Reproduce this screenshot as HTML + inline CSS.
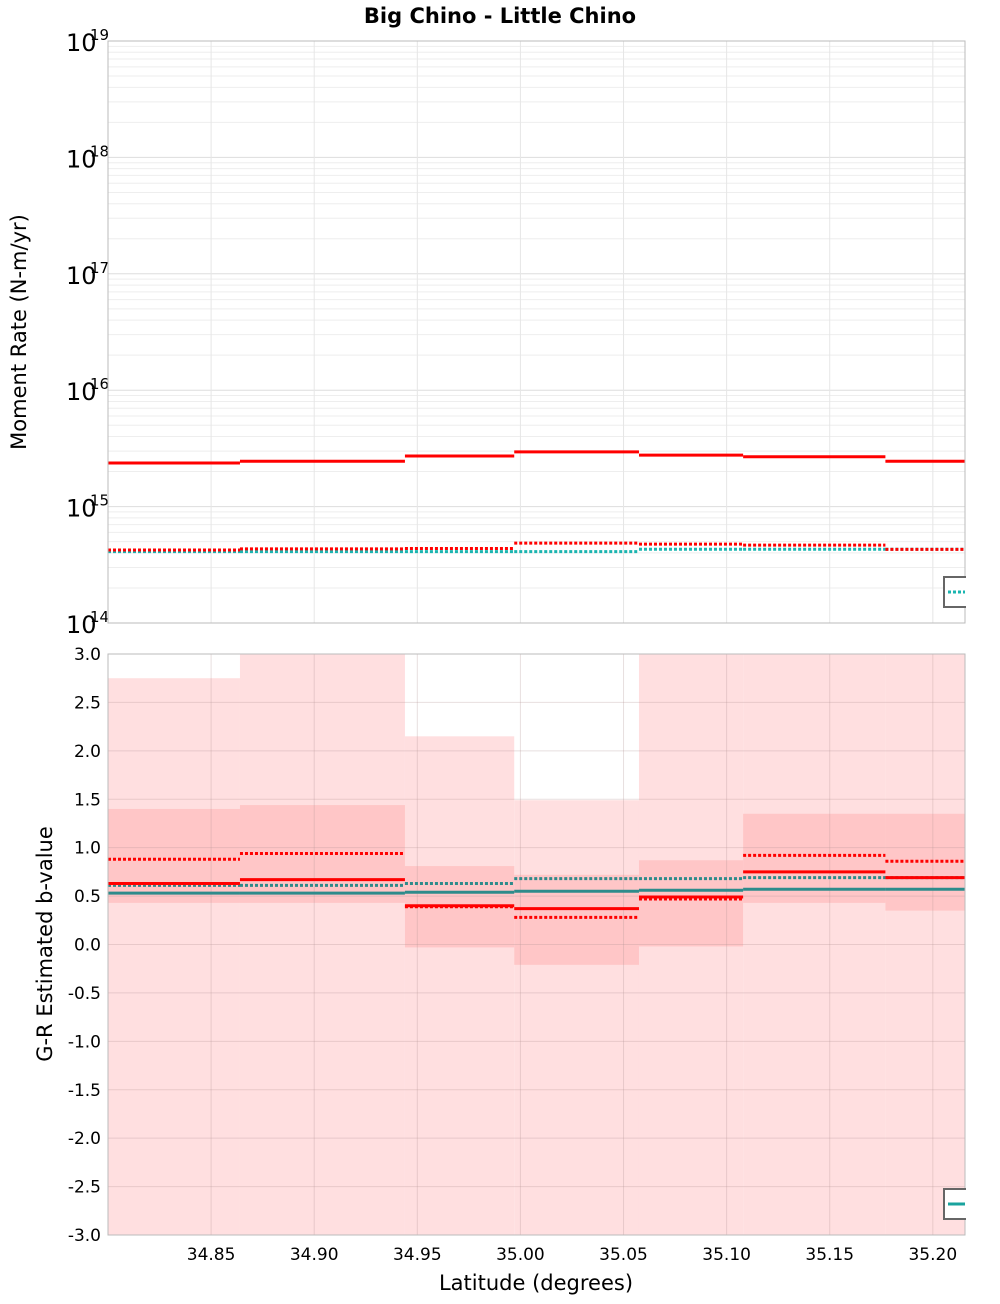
<!DOCTYPE html>
<html><head><meta charset="utf-8"><style>
body{margin:0;background:#fff;font-family:"DejaVu Sans","Liberation Sans",sans-serif}
svg text{font-family:"DejaVu Sans","Liberation Sans",sans-serif}
</style></head><body>
<svg id="chart" width="1000" height="1300">
<text x="500" y="23" text-anchor="middle" font-size="21" font-weight="bold">Big Chino - Little Chino</text>
<g id="topPanel"></g>
<g id="botPanel"></g>
<text transform="translate(26,332) rotate(-90)" text-anchor="middle" font-size="21">Moment Rate (N-m/yr)</text>
<text transform="translate(52,944) rotate(-90)" text-anchor="middle" font-size="21">G-R Estimated b-value</text>
<text x="536" y="1290" text-anchor="middle" font-size="21">Latitude (degrees)</text>
</svg>
<script>
const binEdges=[34.80,34.864,34.944,34.997,35.0575,35.108,35.177,35.2156];
const xTicks=[34.85,34.90,34.95,35.00,35.05,35.10,35.15,35.20];
const momentSolid=[2.37e15,2.45e15,2.72e15,2.95e15,2.77e15,2.68e15,2.45e15];
const momentDotRed=[4.24e14,4.33e14,4.37e14,4.86e14,4.76e14,4.67e14,4.29e14];
const momentDotTeal=[4.1e14,4.1e14,4.1e14,4.1e14,4.3e14,4.3e14,4.3e14];
const bLightHi=[2.75,3.0,2.15,1.49,3.0,3.0,3.0];
const bLightLo=[-3,-3,-3,-3,-3,-3,-3];
const bDarkHi=[1.40,1.44,0.81,0.72,0.87,1.35,1.35];
const bDarkLo=[0.43,0.43,-0.03,-0.21,-0.02,0.43,0.35];
const bRedSolid=[0.63,0.67,0.40,0.37,0.49,0.75,0.69];
const bRedDot=[0.88,0.94,0.39,0.28,0.47,0.92,0.86];
const bTealDot=[0.61,0.61,0.63,0.68,0.68,0.69,0.69];
const bTealSolid=[0.53,0.53,0.54,0.55,0.56,0.57,0.57];
const yTicksB=[3,2.5,2,1.5,1,0.5,0,-0.5,-1,-1.5,-2,-2.5,-3];

const NS='http://www.w3.org/2000/svg';
const L=108,R=965,T1=41,B1=623,T2=654,B2=1235;
const xs=v=>L+(v-34.80)/(35.2156-34.80)*(R-L);
const y1=v=>T1+(19-Math.log10(v))/5*(B1-T1);
const y2=v=>T2+(3-v)/6*(B2-T2);
function mk(p,tag,a){const e=document.createElementNS(NS,tag);for(const k in a)e.setAttribute(k,a[k]);p.appendChild(e);return e;}
const topG=document.getElementById('topPanel'),botG=document.getElementById('botPanel');

for(let d=14;d<19;d++)for(let m=1;m<10;m++){const y=y1(m*Math.pow(10,d));
 const g=mk(topG,'line',{x1:L,x2:R,y1:y,y2:y,stroke:m==1?'#ddd':'#eee','stroke-width':1});
 
 }
xTicks.forEach(t=>{const x=xs(t);
 const g=mk(topG,'line',{x1:x,x2:x,y1:T1,y2:B1,stroke:'#e6e6e6'});
 
 
 const tx=mk(botG,'text',{x:x,y:1260,'text-anchor':'middle','font-size':17});tx.textContent=t.toFixed(2);
 
 });
for(let d=14;d<=19;d++){const y=y1(Math.pow(10,d));
 const t=mk(topG,'text',{x:66,y:y+10,'font-size':24});t.textContent='10';
 
 
 const s=mk(topG,'text',{x:90,y:y-1,'font-size':15});s.textContent=d;
 
 }
function steps(p,arr,yf,col,dash,w,name){
 arr.forEach((v,i)=>{const e=mk(p,'line',{x1:xs(binEdges[i]),x2:xs(binEdges[i+1]),y1:yf(v),y2:yf(v),stroke:col,'stroke-width':w});
 if(dash)e.setAttribute('stroke-dasharray',dash);
 
 });}
steps(topG,momentSolid,y1,'#ff0000',null,3,'moment-rate-solid');
steps(topG,momentDotTeal,y1,'#1ab5b0','3,2',3,'moment-rate-teal-dotted');
steps(topG,momentDotRed,y1,'#ff0000','3,2',3,'moment-rate-red-dotted');
let r=mk(topG,'rect',{x:L,y:T1,width:R-L,height:B1-T1,fill:'none',stroke:'#bbb'});

r=mk(topG,'rect',{x:944,y:577,width:30,height:30,fill:'#fff',stroke:'#666','stroke-width':2});

r=mk(topG,'line',{x1:948,x2:965,y1:592,y2:592,stroke:'#1ab5b0','stroke-width':3,'stroke-dasharray':'3,2'});


bLightHi.forEach((v,i)=>{const e=mk(botG,'rect',{x:xs(binEdges[i]),y:y2(v),width:xs(binEdges[i+1])-xs(binEdges[i]),height:y2(bLightLo[i])-y2(v),fill:'#ffdfe0'});
 
 });
bDarkHi.forEach((v,i)=>{const e=mk(botG,'rect',{x:xs(binEdges[i]),y:y2(v),width:xs(binEdges[i+1])-xs(binEdges[i]),height:y2(bDarkLo[i])-y2(v),fill:'#ffc6c7'});
 
 });
xTicks.forEach(t=>{const x=xs(t);
 const g2=mk(botG,'line',{x1:x,x2:x,y1:T2,y2:B2,stroke:'rgba(180,150,150,0.3)'});
 
 });
yTicksB.forEach(t=>{const y=y2(t);
 const g=mk(botG,'line',{x1:L,x2:R,y1:y,y2:y,stroke:'rgba(180,150,150,0.3)'});
 
 
 const tx=mk(botG,'text',{x:101,y:y+6,'text-anchor':'end','font-size':17});tx.textContent=t.toFixed(1);
 
 });
steps(botG,bTealDot,y2,'#2e8b8b','3,2',3,'b-value-teal-dotted');
steps(botG,bTealSolid,y2,'#2e8b8b',null,3,'b-value-teal-solid');
steps(botG,bRedDot,y2,'#ff0000','3,2',3,'b-value-red-dotted');
steps(botG,bRedSolid,y2,'#ff0000',null,3,'b-value-red-solid');
r=mk(botG,'rect',{x:L,y:T2,width:R-L,height:B2-T2,fill:'none',stroke:'#bbb'});

r=mk(botG,'rect',{x:944,y:1189,width:30,height:30,fill:'#fff',stroke:'#666','stroke-width':2});

r=mk(botG,'line',{x1:948,x2:965,y1:1204,y2:1204,stroke:'#1aa39e','stroke-width':3});

r=mk(document.getElementById('chart'),'rect',{x:966,y:560,width:34,height:680,fill:'#fff'});

</script>
</body></html>
